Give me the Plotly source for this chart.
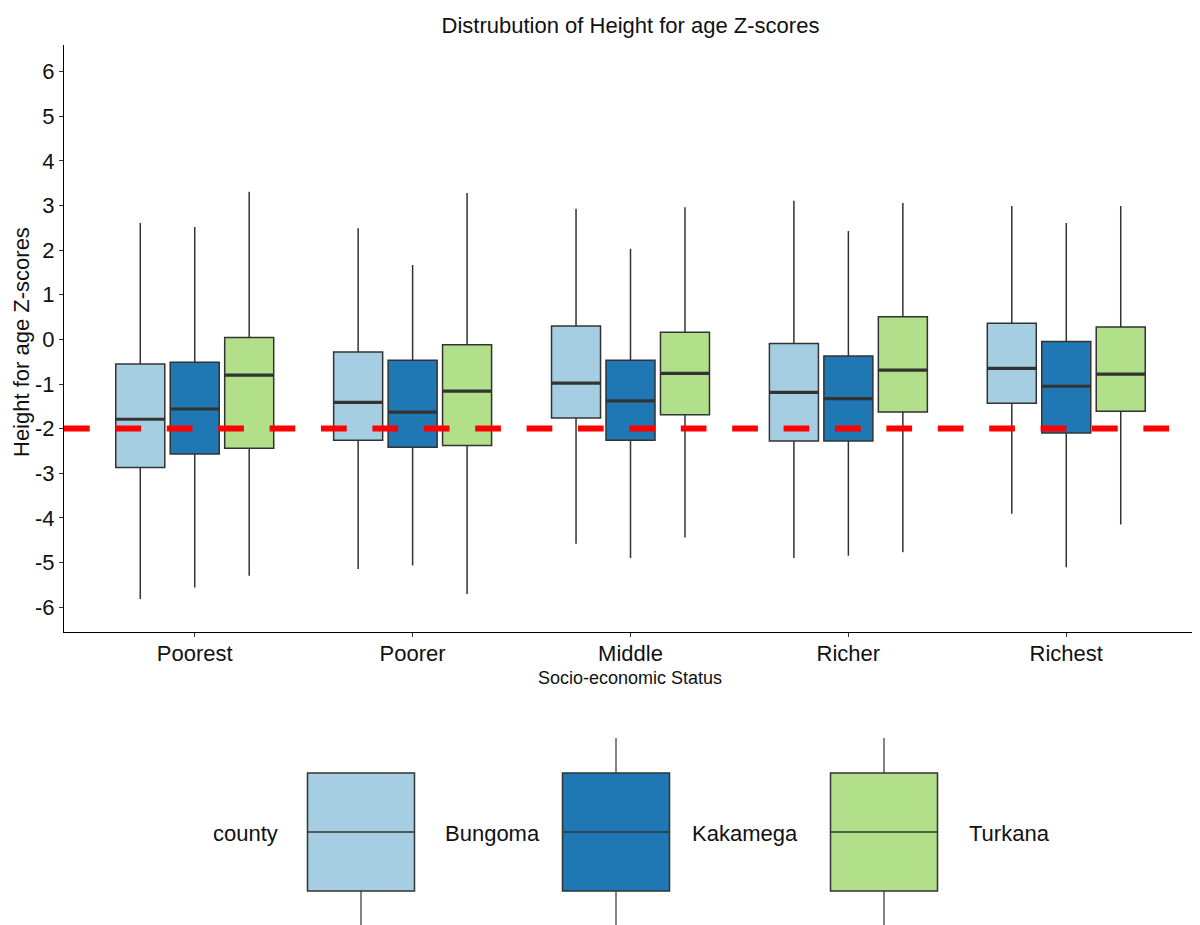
import plotly.graph_objects as go

# ---------------- data ----------------
categories = ["Poorest", "Poorer", "Middle", "Richer", "Richest"]
counties = ["Bungoma", "Kakamega", "Turkana"]

bungoma_lower = [-5.82, -5.15, -4.58, -4.90, -3.91]
bungoma_q1 = [-2.87, -2.26, -1.76, -2.28, -1.43]
bungoma_median = [-1.79, -1.41, -0.98, -1.19, -0.65]
bungoma_q3 = [-0.55, -0.28, 0.30, -0.09, 0.36]
bungoma_upper = [2.61, 2.49, 2.93, 3.11, 2.99]

kakamega_lower = [-5.56, -5.07, -4.90, -4.85, -5.11]
kakamega_q1 = [-2.57, -2.42, -2.26, -2.28, -2.10]
kakamega_median = [-1.56, -1.63, -1.38, -1.33, -1.05]
kakamega_q3 = [-0.51, -0.47, -0.47, -0.37, -0.05]
kakamega_upper = [2.52, 1.67, 2.03, 2.43, 2.61]

turkana_lower = [-5.30, -5.71, -4.44, -4.77, -4.15]
turkana_q1 = [-2.44, -2.38, -1.69, -1.63, -1.61]
turkana_median = [-0.80, -1.16, -0.76, -0.69, -0.78]
turkana_q3 = [0.04, -0.12, 0.16, 0.51, 0.28]
turkana_upper = [3.31, 3.28, 2.96, 3.06, 2.99]

threshold = -2
y_ticks = [6, 5, 4, 3, 2, 1, 0, -1, -2, -3, -4, -5, -6]

# ---------------- style ----------------
colors = {"Bungoma": "#A6CEE3", "Kakamega": "#1F78B4", "Turkana": "#B2DF8A"}
outline = "#333333"
TXT = "#111111"
FONT = "Liberation Sans, Arial, sans-serif"

stats = {
    "Bungoma": (bungoma_lower, bungoma_q1, bungoma_median, bungoma_q3, bungoma_upper),
    "Kakamega": (kakamega_lower, kakamega_q1, kakamega_median, kakamega_q3, kakamega_upper),
    "Turkana": (turkana_lower, turkana_q1, turkana_median, turkana_q3, turkana_upper),
}

fig = go.Figure()
for c in counties:
    lo, q1, med, q3, hi = stats[c]
    fig.add_trace(go.Box(
        x=categories, lowerfence=lo, q1=q1, median=med, q3=q3, upperfence=hi,
        name=c, offsetgroup=c, fillcolor=colors[c],
        line=dict(color=outline, width=1.5), whiskerwidth=0,
        boxpoints=False, showlegend=False, hoverinfo="skip",
    ))
# thicker median bars drawn over the boxes
for c in counties:
    lo, q1, med, q3, hi = stats[c]
    fig.add_trace(go.Box(
        x=categories, lowerfence=med, q1=med, median=med, q3=med, upperfence=med,
        name=c + " median", offsetgroup=c, fillcolor="rgba(0,0,0,0)",
        line=dict(color=outline, width=3.2), whiskerwidth=0,
        boxpoints=False, showlegend=False, hoverinfo="skip",
    ))

fig.add_hline(y=threshold, line=dict(color="#FF0000", width=6, dash="25.7px,25.7px"))

# ---------------- layout ----------------
OFF = 8  # page body margin of the browser
W, H = 1200 - OFF, 925 - OFF
L, T = 64 - OFF, 45 - OFF
R = W - (1197 - OFF)
B = H - (632 - OFF)
pw, ph = W - L - R, H - T - B


def px(x):
    return (x - OFF - L) / pw


def py(y):
    return (H - B - (y - OFF)) / ph


# legend drawn below the plot (large ggplot-style keys)
key_centers = [361, 616, 884]
key_half = 53.5
label_x = [443, 690, 967]
shapes = []
annotations = []
for c, cx, lx in zip(counties, key_centers, label_x):
    shapes.append(dict(type="line", xref="paper", yref="paper", x0=px(cx), x1=px(cx),
                       y0=py(738), y1=py(773), line=dict(color=outline, width=1.2)))
    shapes.append(dict(type="line", xref="paper", yref="paper", x0=px(cx), x1=px(cx),
                       y0=py(891), y1=py(935), line=dict(color=outline, width=1.2)))
    shapes.append(dict(type="rect", xref="paper", yref="paper", x0=px(cx - key_half),
                       x1=px(cx + key_half), y0=py(891), y1=py(773),
                       fillcolor=colors[c], line=dict(color=outline, width=1.5)))
    shapes.append(dict(type="line", xref="paper", yref="paper", x0=px(cx - key_half),
                       x1=px(cx + key_half), y0=py(832), y1=py(832),
                       line=dict(color=outline, width=1.5)))
    annotations.append(dict(text=c, xref="paper", yref="paper", x=px(lx),
                            y=py(833), xanchor="left", yanchor="middle", showarrow=False,
                            font=dict(family=FONT, size=22, color=TXT)))
annotations.append(dict(text="county", xref="paper", yref="paper", x=px(280),
                        y=py(833), xanchor="right", yanchor="middle", showarrow=False,
                        font=dict(family=FONT, size=22, color=TXT)))
# axis titles
annotations.append(dict(text="Height for age Z-scores", xref="paper", yref="paper",
                        x=px(21), y=py(342), textangle=-90, xanchor="center",
                        yanchor="middle", showarrow=False,
                        font=dict(family=FONT, size=22, color=TXT)))
annotations.append(dict(text="Socio-economic Status", xref="paper", yref="paper",
                        x=px(630), y=py(678), xanchor="center", yanchor="middle",
                        showarrow=False, font=dict(family=FONT, size=18, color=TXT)))

fig.update_layout(
    width=W, height=H,
    margin=dict(l=L, r=R, t=T, b=B, autoexpand=False),
    paper_bgcolor="white", plot_bgcolor="white",
    boxmode="group", boxgap=0.25, boxgroupgap=0.1,
    font=dict(family=FONT, color=TXT),
    title=dict(text="Distrubution of Height for age Z-scores", x=0.5, xref="paper",
               y=1 - (25 - OFF) / H, yref="container", xanchor="center", yanchor="middle",
               font=dict(family=FONT, size=22, color=TXT)),
    xaxis=dict(
        categoryorder="array", categoryarray=categories,
        range=[-0.6, 4.6], showgrid=False, zeroline=False,
        showline=True, linecolor="black", linewidth=1.3,
        ticks="outside", ticklen=4, tickcolor="#333333", tickwidth=1.1,
        ticklabelstandoff=-3,
        tickfont=dict(family=FONT, size=22, color=TXT),
    ),
    yaxis=dict(
        range=[-6.56, 6.6], tickvals=y_ticks, ticktext=[str(v) for v in y_ticks],
        showgrid=False, zeroline=False,
        showline=True, linecolor="black", linewidth=1.3,
        ticks="outside", ticklen=4, tickcolor="#333333", tickwidth=1.1,
        tickfont=dict(family=FONT, size=22, color=TXT),
    ),
    shapes=shapes,
    annotations=annotations,
)

fig.write_html("out.html")
